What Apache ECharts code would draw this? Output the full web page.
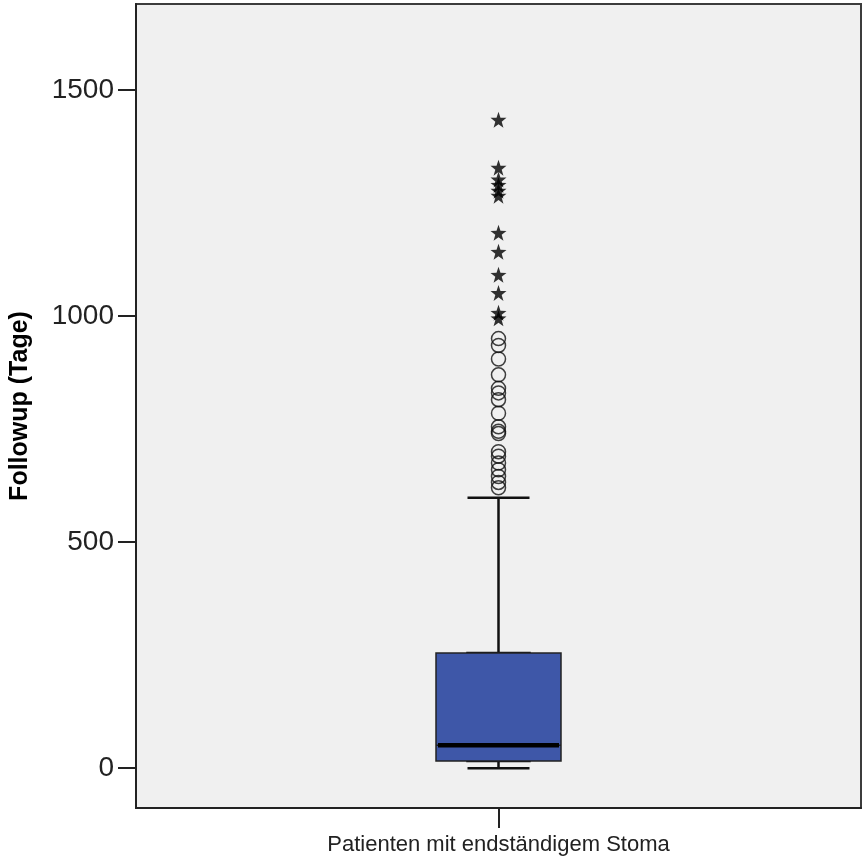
<!DOCTYPE html>
<html>
<head>
<meta charset="utf-8">
<script src="https://cdn.jsdelivr.net/npm/echarts@6/dist/echarts.min.js"></script>
<style>
html,body{margin:0;padding:0;background:#fff;}
#chart{width:863px;height:865px;}
</style>
</head>
<body>
<div id="chart"></div>
<script>
const categories = ['Patienten mit endständigem Stoma'];
// [min, Q1, median, Q3, max]
const boxStats = [0, 16, 51, 255, 598];
const mildOutliers = [950, 935, 905, 870, 840, 830, 815, 785, 755, 745, 740, 700, 690, 675, 660, 645, 632, 620];
const extremeOutliers = [1434, 1328, 1302, 1290, 1277, 1266, 1184, 1142, 1091, 1051, 1007, 995];
const yTicks = [0, 500, 1000, 1500];

const starPath = 'path://M0,-10 L2.35,-3.24 L9.51,-3.09 L3.8,1.24 L5.88,8.09 L0,4 L-5.88,8.09 L-3.8,1.24 L-9.51,-3.09 L-2.35,-3.24Z';

const chart = echarts.init(document.getElementById('chart'));
const cat = categories[0];

function hiddenX() {
  return { type: 'category', data: categories, boundaryGap: true, show: false };
}

chart.setOption({
  backgroundColor: '#ffffff',
  animation: false,
  grid: {
    left: 136, right: 2, top: 4, bottom: 57,
    outerBoundsMode: 'none', containLabel: false,
    show: true, backgroundColor: '#f0f0f0', borderColor: '#3c3c3c', borderWidth: 2
  },
  xAxis: [
    {
      type: 'category',
      data: categories,
      boundaryGap: true,
      axisLine: { show: true, onZero: false, lineStyle: { color: '#222', width: 2 } },
      axisTick: { show: true, alignWithLabel: true, length: 20, lineStyle: { color: '#222', width: 2 } },
      axisLabel: {
        margin: 26, color: '#222', fontSize: 22,
        fontFamily: "'Liberation Sans', Arial, sans-serif"
      },
      splitLine: { show: false }
    },
    hiddenX(),
    hiddenX()
  ],
  yAxis: {
    type: 'value',
    min: -88, max: 1690,
    name: 'Followup (Tage)',
    nameLocation: 'middle',
    nameGap: 103,
    nameTextStyle: { fontSize: 25, fontWeight: 'bold', color: '#000', fontFamily: "'Liberation Sans', Arial, sans-serif" },
    axisLine: { show: true, lineStyle: { color: '#222', width: 2 } },
    axisTick: { show: true, length: 18, customValues: yTicks, lineStyle: { color: '#222', width: 2 } },
    axisLabel: {
      customValues: yTicks, margin: 22, color: '#222', fontSize: 28,
      fontFamily: "'Liberation Sans', Arial, sans-serif",
      formatter: v => String(v)
    },
    splitLine: { show: false }
  },
  series: [
    {
      // whiskers with narrow caps
      type: 'boxplot',
      xAxisIndex: 0,
      data: [boxStats],
      boxWidth: [62, 62],
      itemStyle: { color: '#3E57A8', borderColor: '#111', borderWidth: 2.5 },
      z: 2
    },
    {
      // wide box (whiskers collapsed onto box edges)
      type: 'boxplot',
      xAxisIndex: 1,
      data: [[boxStats[1], boxStats[1], boxStats[2], boxStats[3], boxStats[3]]],
      boxWidth: [125, 125],
      itemStyle: { color: '#3E57A8', borderColor: '#222', borderWidth: 1.5 },
      z: 3
    },
    {
      // thick median line
      type: 'boxplot',
      xAxisIndex: 2,
      data: [[boxStats[2], boxStats[2], boxStats[2], boxStats[2], boxStats[2]]],
      boxWidth: [121, 121],
      itemStyle: { color: '#000', borderColor: '#000', borderWidth: 4.5 },
      z: 4
    },
    {
      type: 'scatter',
      xAxisIndex: 0,
      data: mildOutliers.map(v => [cat, v]),
      symbol: 'circle',
      symbolSize: 14,
      itemStyle: { color: 'rgba(240,240,240,0)', borderColor: '#111', borderWidth: 1.5 },
      z: 5
    },
    {
      type: 'scatter',
      xAxisIndex: 0,
      data: extremeOutliers.map(v => [cat, v]),
      symbol: starPath,
      symbolSize: 16,
      itemStyle: { color: '#000' },
      z: 5
    }
  ]
});
</script>
</body>
</html>
